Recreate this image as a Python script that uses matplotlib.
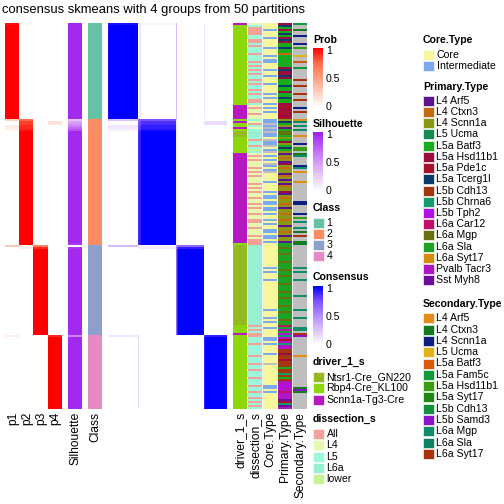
import numpy as np
import matplotlib
matplotlib.use('Agg')
import matplotlib.pyplot as plt
from matplotlib.colors import LinearSegmentedColormap, ListedColormap, to_rgb
from matplotlib.patches import Rectangle

plt.rcParams['font.family'] = ['Liberation Sans', 'DejaVu Sans']

title = 'consensus skmeans with 4 groups from 50 partitions'

# samples per class, in row order
class_sizes = [48, 63, 45, 37]
class_names = ['1', '2', '3', '4']
class_colors = ['#66C2A5', '#FC8D62', '#8DA0CB', '#E78AC3']

# membership probabilities of the samples that are not clean members
# (class, index in class) -> (p1, p2, p3, p4)
mixed_prob = {
    (1, 0): (0.95, 0.05, 0, 0),
    (2, 0): (0.25, 0.75, 0, 0),
    (2, 1): (0, 0.85, 0, 0.15),
    (2, 2): (0, 0.85, 0, 0.15),
    (2, 3): (0.1, 0.9, 0, 0),
    (2, 4): (0.1, 0.9, 0, 0),
    (2, 5): (0.05, 0.95, 0, 0),
    (3, 0): (0.3, 0.05, 0.65, 0),
    (3, 1): (0, 0.1, 0.9, 0),
    (4, 0): (0.1, 0, 0, 0.9),
}
silhouette_default = 0.96
silhouette_low = {
    (2, 0): 0.3, (2, 1): 0.45, (2, 2): 0.5, (2, 3): 0.6, (2, 4): 0.7,
    (2, 5): 0.8, (2, 62): 0.9, (3, 0): 0.05, (3, 1): 0.9, (4, 0): 0.6,
}

# annotation tracks, one character per sample (groups of ten)
driver_codes = [
    'SRRRRRRRRR RRRRRRRRRR RRRRRRRRRR RRRRRRRRRR RSSSSSSS',
    'RSRRSRNNNR RRRRRRRSSS SSSSSSSSSS SSSSSSSSSS SSSSSSSSSS SSSSSSSSSS SSR',
    'NNNNNNNNNN NNNNNNNNNN NNNNNNNNNN NNNNNNNNNN RRRRS',
    'RRRRRRRRRR RRRRRRRRRR RRRRRRRRRR RRRRRRR',
]
dissection_codes = [
    '45AAAA55AA 5A555A555A 5A5A5A55A5 A55A5A55AA 54A44A44',
    '54A5456665 A55A5w54A4 A444A4A4A4 44A4A4A44A 44A4A44A44 AA44A444A4 AAA',
    '6666666666 6666666666 6666666666 6666666666 A5A5A',
    'A555A55555 A555A55A55 5A555A55A5 5A5A5A5',
]
core_codes = [
    'CCCICCCICC CCICCCICII CCCICCICCC ICCCCICICC ICICICCC',
    'II-I-I-IIC -II-CI-CIC IC-ICI-CCC CICCCCICII CIICIICICC ICICCIICII CIC',
    'CCCCCCCCCC CICICCCICC CCCCCCCCCC CCICCCICIC CICCC',
    'CIICICCCCI CCCC-CCCCC CCCCCIICIC CCCCCCC',
]
primary_codes = [
    'fhefehefhf eeheebeeee eefhffhfee eheefeehee fggfggfg',
    'checaemmec efcehecacb cafcbccabc acabccfacb ccbcaccbcc bccaccbcac cae',
    'nmnnmnnnmn nnmnnmnnnm nnnmnnmnnn mnnmnnnmnn lnpek',
    'jpgpjppiif iigiiieiij ieippkpplp ppqgjqp',
]
secondary_codes = [
    'f--b--c--- c-g---d--e --f-----m- -m---m--m- --c-m---',
    'ak-k-k--a- --c-gg-bk- ---ck-a--- -a-------- -cc----c-g -k--k-b-m- -bb',
    '---------- -k-k---k-- -----k---- --k---k--- -kk-m',
    'j--------- a--------- ------bjb- -------',
]

driver_names = ['Ntsr1-Cre_GN220', 'Rbp4-Cre_KL100', 'Scnn1a-Tg3-Cre']
driver_keys = ['N', 'R', 'S']
driver_colors = ['#94BA20', '#8CD80A', '#B818C4']

dissection_names = ['All', 'L4', 'L5', 'L6a', 'lower']
dissection_keys = ['A', '4', '5', '6', 'w']
dissection_colors = ['#F4A198', '#E6F8B2', '#9CF6DC', '#98EFD4', '#C6F48E']

core_names = ['Core', 'Intermediate']
core_keys = ['C', 'I']
core_colors = ['#F9F79C', '#7DA9F2']

primary_names = ['L4 Arf5', 'L4 Ctxn3', 'L4 Scnn1a', 'L5 Ucma', 'L5a Batf3',
                 'L5a Hsd11b1', 'L5a Pde1c', 'L5a Tcerg1l', 'L5b Cdh13',
                 'L5b Chrna6', 'L5b Tph2', 'L6a Car12', 'L6a Mgp', 'L6a Sla',
                 'L6a Syt17', 'Pvalb Tacr3', 'Sst Myh8']
primary_keys = list('abcdefghijklmnopq')
primary_colors = ['#5C1391', '#C46A12', '#8A9714', '#168A52', '#1AAA1E',
                  '#9B0C3F', '#A8102C', '#0C3B6B', '#A2360F', '#139A6E',
                  '#B10FE3', '#C20F6C', '#6A700E', '#1DA227', '#D68C0C',
                  '#B014C3', '#6B0D9C']

secondary_names = ['L4 Arf5', 'L4 Ctxn3', 'L4 Scnn1a', 'L5 Ucma', 'L5a Batf3',
                   'L5a Fam5c', 'L5a Hsd11b1', 'L5a Syt17', 'L5b Cdh13',
                   'L5b Samd3', 'L6a Mgp', 'L6a Sla', 'L6a Syt17']
secondary_keys = list('abcdefghijklm')
secondary_colors = ['#E38D19', '#147A21', '#0C1F82', '#E2B117', '#DA580E',
                    '#109A3D', '#3A9D12', '#1F8A12', '#12903E', '#8C13CA',
                    '#0F8C6C', '#0F7F62', '#AA310C']
na_color = '#BEBEBE'

bottom_labels = ['p1', 'p2', 'p3', 'p4', 'Silhouette', 'Class',
                 'driver_1_s', 'dissection_s', 'Core.Type', 'Primary.Type',
                 'Secondary.Type']

# ---------------------------------------------------------------------------
N = sum(class_sizes)
starts = np.cumsum([0] + class_sizes[:-1])
labels = np.repeat(np.arange(4), class_sizes)
prob = np.zeros((N, 4))
prob[np.arange(N), labels] = 1
for (k, i), p in mixed_prob.items():
    prob[starts[k - 1] + i] = p
sil = np.full(N, silhouette_default)
for (k, i), s in silhouette_low.items():
    sil[starts[k - 1] + i] = s
consensus = np.clip(prob @ prob.T, 0, 1)


def track(parts, keys, colors):
    s = ''.join(parts).replace(' ', '')
    assert len(s) == N, len(s)
    lut = dict(zip(keys, colors))
    return np.array([to_rgb(lut.get(c, na_color)) for c in s])[:, None, :]


red = LinearSegmentedColormap.from_list(
    'r', ['#FFFFFF', '#FFD0BE', '#FF9D80', '#FF6E4B', '#FF0000'])
purple = LinearSegmentedColormap.from_list(
    'p', ['#FFFFFF', '#EBCDFD', '#D599FB', '#BC5EF6', '#A020F0'])
blue = LinearSegmentedColormap.from_list(
    'b', ['#FFFFFF', '#DCC4FF', '#B38CFF', '#7F51FF', '#0000FF'])

W = H = 504
fig = plt.figure(figsize=(7, 7), dpi=72)


def px_axes(x0, y0, x1, y1):
    ax = fig.add_axes([x0 / W, 1 - y1 / H, (x1 - x0) / W, (y1 - y0) / H])
    ax.set_axis_off()
    return ax


top, bot = 23, 409
kw = dict(aspect='auto', interpolation='nearest')
px_axes(5, top, 62, bot).imshow(prob, cmap=red, vmin=0, vmax=1, **kw)
px_axes(68, top, 82, bot).imshow(sil[:, None], cmap=purple, vmin=0, vmax=1, **kw)
px_axes(88, top, 102, bot).imshow(labels[:, None], cmap=ListedColormap(class_colors),
                                  vmin=-0.5, vmax=3.5, **kw)
px_axes(108, top, 227, bot).imshow(consensus, cmap=blue, vmin=0, vmax=1, **kw)

tracks = [
    track(driver_codes, driver_keys, driver_colors),
    track(dissection_codes, dissection_keys, dissection_colors),
    track(core_codes, core_keys, core_colors),
    track(primary_codes, primary_keys, primary_colors),
    track(secondary_codes, secondary_keys, secondary_colors),
]
for j, img in enumerate(tracks):
    x0 = 233 + 15 * j
    px_axes(x0, top, x0 + 14, bot).imshow(img, **kw)

# overlay for texts and legends, in pixel units
lg = fig.add_axes([0, 0, 1, 1])
lg.set_xlim(0, W)
lg.set_ylim(H, 0)
lg.set_axis_off()

lg.text(153, 13.5, title, fontsize=13, ha='center', va='baseline')

label_x = [12.5, 27, 41, 55, 75, 95, 240, 255, 270, 285, 300]
for x, s in zip(label_x, bottom_labels):
    lg.text(x + 0.5, 412, s, fontsize=12, rotation=90, ha='center', va='top')

FS = 10.5


def colorbar(name, cmap, title_y, y1, y0):
    lg.text(313, title_y, name, fontsize=FS, fontweight='bold', va='center')
    ax = px_axes(313, y1 - 3, 323, y0)
    ax.imshow(np.linspace(1, 0, 100)[:, None], cmap=cmap, vmin=0, vmax=1, **kw)
    for v, t in zip([1, 0.5, 0], ['1', '0.5', '0']):
        y = y0 + (y1 - y0) * v
        lg.text(326, y, t, fontsize=FS, va='center')
        if v > 0:
            lg.plot([313, 315], [y, y], color='white', lw=0.8)
            lg.plot([321, 323], [y, y], color='white', lw=0.8)


colorbar('Prob', red, 40, 51, 107)
colorbar('Silhouette', purple, 124, 135, 191)
colorbar('Consensus', blue, 277, 289, 345)


def discrete(name, x, title_y, y_first, step, names, colors):
    lg.text(x, title_y, name, fontsize=FS, fontweight='bold', va='center')
    for i, (n, c) in enumerate(zip(names, colors)):
        y = y_first + step * i
        lg.add_patch(Rectangle((x, y - 5), 10.5, 10, facecolor=c, edgecolor='white',
                               lw=0.6))
        lg.text(x + 13.5, y, n, fontsize=FS, va='center')


discrete('Class', 313, 208, 222.5, 11.3, class_names, class_colors)
discrete('driver_1_s', 313, 362, 377, 11.3, driver_names, driver_colors)
discrete('dissection_s', 313, 419, 434, 11.3, dissection_names, dissection_colors)
discrete('Core.Type', 423, 40, 55, 11.0, core_names, core_colors)
discrete('Primary.Type', 423, 87, 100.7, 11.23, primary_names, primary_colors)
discrete('Secondary.Type', 423, 304, 318.3, 11.3, secondary_names, secondary_colors)

fig.savefig('out.png', dpi=72)
